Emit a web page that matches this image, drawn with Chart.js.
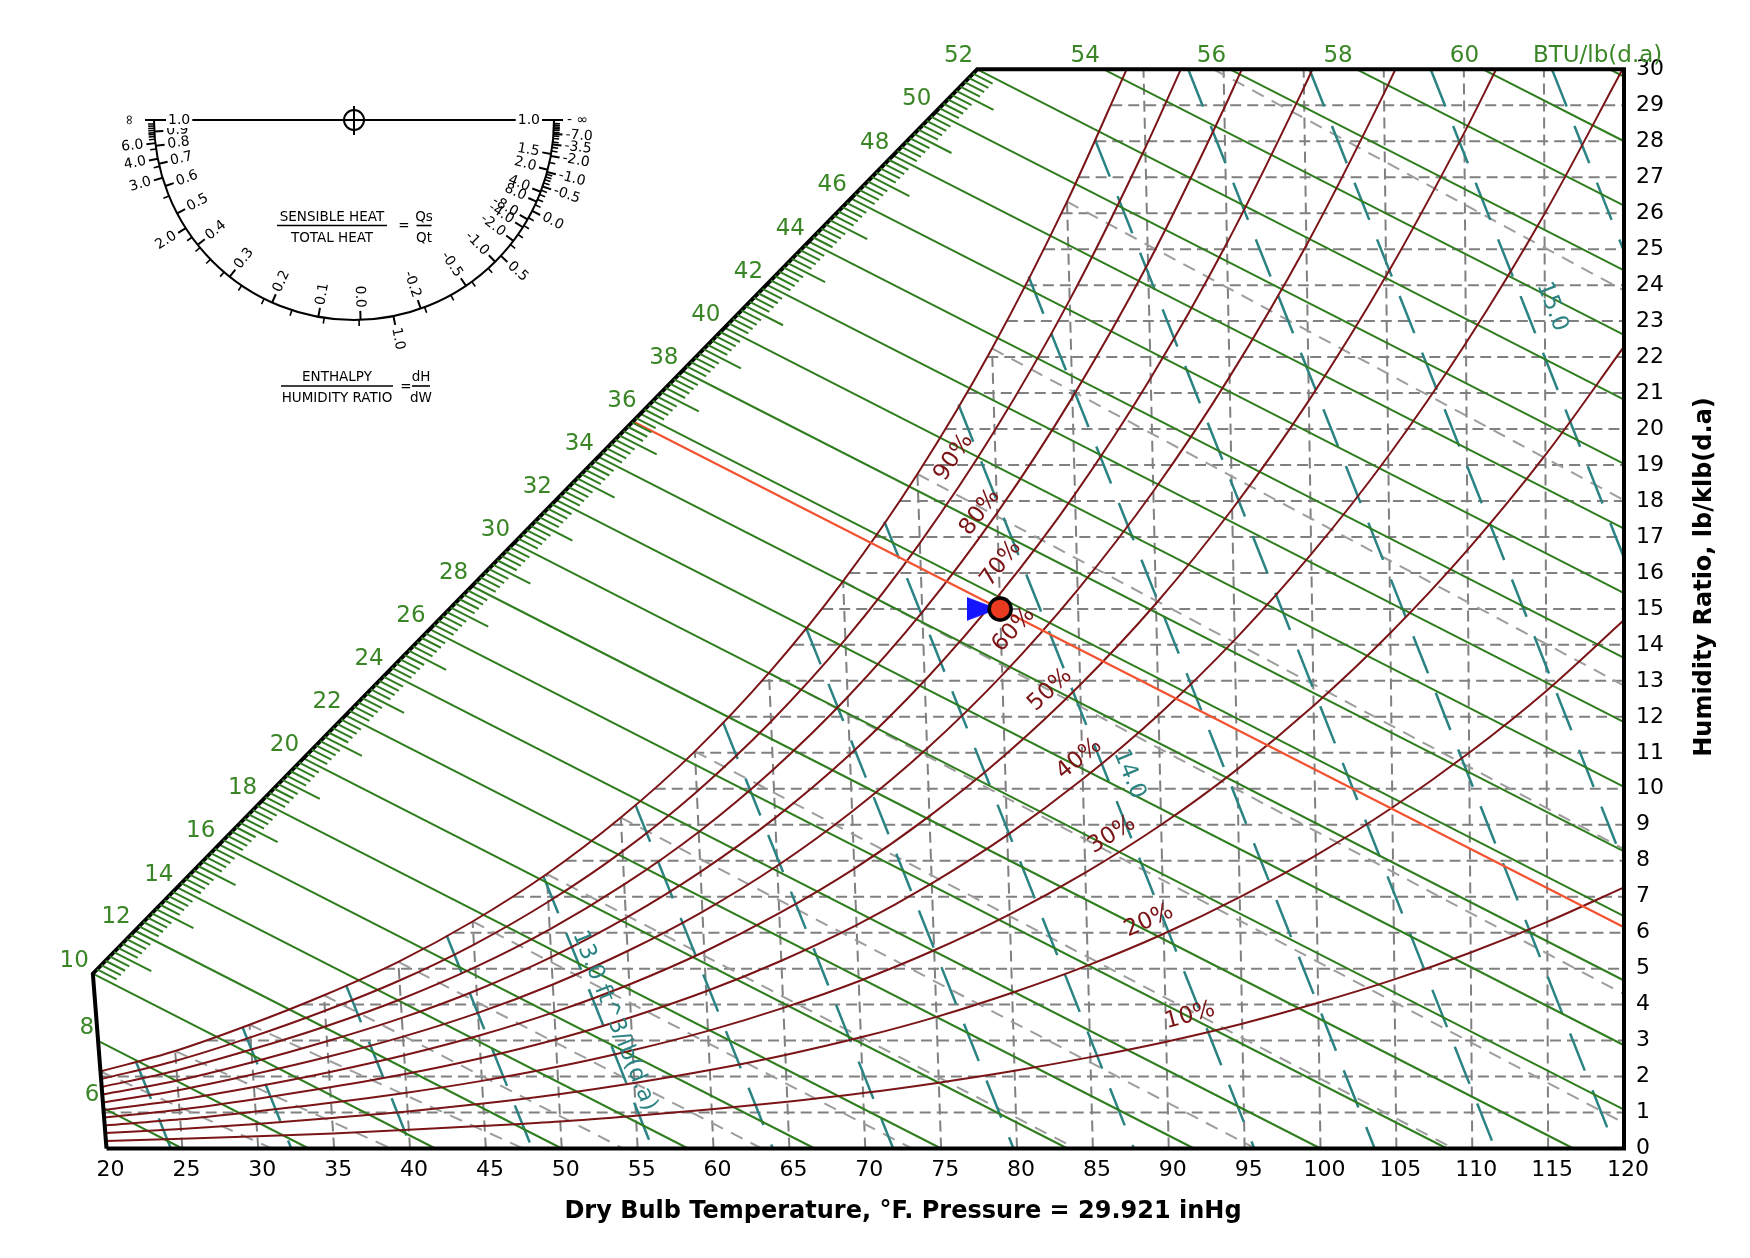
<!DOCTYPE html>
<html>
<head>
<meta charset="utf-8">
<title>Psychrometric Chart</title>
<script src="https://cdn.jsdelivr.net/npm/chart.js"></script>
<style>
  html, body { margin: 0; padding: 0; background: #fff; }
  #wrap { width: 1750px; height: 1258px; position: relative; }
</style>
</head>
<body>
<div id="wrap"><canvas id="psy"></canvas></div>
<script>
/* ============================================================
   psychrometric chart  –  sea level, 29.921 inHg
   ============================================================ */

// ── DRY BULB STEPS (°F) used by the relative humidity curves
const TEMPS = [20, 25, 30, 35, 40, 45, 50, 55, 60, 65, 70, 75, 80, 85, 90, 95, 100, 105, 110, 115, 120];

// ── RELATIVE HUMIDITY CURVES: humidity ratio (lb/klb) at each TEMPS step
const RH_100 = [2.14, 2.71, 3.44, 4.26, 5.19, 6.31, 7.63, 9.20, 11.04, 13.22, 15.77, 18.75, 22.24, 26.32];
const RH_90  = [1.93, 2.44, 3.09, 3.83, 4.67, 5.67, 6.86, 8.26, 9.92, 11.87, 14.15, 16.83, 19.95, 23.59, 27.82];
const RH_80  = [1.71, 2.17, 2.75, 3.40, 4.15, 5.04, 6.09, 7.34, 8.80, 10.53, 12.55, 14.91, 17.67, 20.88, 24.60, 28.93];
const RH_70  = [1.50, 1.89, 2.40, 2.98, 3.63, 4.40, 5.32, 6.41, 7.69, 9.19, 10.95, 13.01, 15.41, 18.19, 21.42, 25.17, 29.49];
const RH_60  = [1.28, 1.62, 2.06, 2.55, 3.11, 3.77, 4.56, 5.49, 6.58, 7.86, 9.37, 11.12, 13.16, 15.53, 18.27, 21.45, 25.11, 29.33];
const RH_50  = [1.07, 1.35, 1.71, 2.12, 2.59, 3.14, 3.79, 4.56, 5.47, 6.54, 7.78, 9.24, 10.93, 12.89, 15.15, 17.77, 20.79, 24.26, 28.24];
const RH_40  = [0.86, 1.08, 1.37, 1.70, 2.07, 2.51, 3.03, 3.65, 4.37, 5.22, 6.21, 7.37, 8.71, 10.27, 12.06, 14.14, 16.52, 19.25, 22.39, 25.98];
const RH_30  = [0.64, 0.81, 1.03, 1.27, 1.55, 1.88, 2.27, 2.73, 3.27, 3.91, 4.65, 5.51, 6.51, 7.67, 9.00, 10.54, 12.31, 14.33, 16.64, 19.28, 22.29];
const RH_20  = [0.43, 0.54, 0.68, 0.85, 1.03, 1.25, 1.51, 1.82, 2.18, 2.60, 3.09, 3.66, 4.33, 5.09, 5.97, 6.99, 8.15, 9.48, 11.00, 12.72, 14.69];
const RH_10  = [0.21, 0.27, 0.34, 0.42, 0.52, 0.63, 0.75, 0.91, 1.09, 1.30, 1.54, 1.83, 2.16, 2.54, 2.97, 3.47, 4.05, 4.70, 5.45, 6.30, 7.26];
const RH_LEVELS = [100, 90, 80, 70, 60, 50, 40, 30, 20, 10];
const RH_CURVES = [RH_100, RH_90, RH_80, RH_70, RH_60, RH_50, RH_40, RH_30, RH_20, RH_10];
// dry bulb where a curve leaves through the top edge (W = 30)
const RH_TOP_T = [88.95, 92.33, 96.14, 100.55, 105.73, 112.02, 119.91, null, null, null];

// ── ENTHALPY LINES (BTU/lb), start on the scale, end on the frame
const ENTHALPY_LEVELS = [6, 8, 10, 12, 14, 16, 18, 20, 22, 24, 26, 28, 30, 32, 34, 36, 38, 40, 42, 44, 46, 48, 50, 52, 54, 56, 58, 60, 62];
const ENTH_START_T = [20, 20, 20, 22.95, 25.94, 28.86, 31.77, 34.67, 37.60, 40.48, 43.34, 46.23, 49.07, 51.89, 54.71, 57.55, 60.34, 63.12, 65.93, 68.68, 71.42, 74.19, 76.91, 79.62, 87.52, 95.41, 103.31, 111.20, 119.10];
const ENTH_START_W = [1.12, 2.99, 4.86, 6.06, 7.25, 8.45, 9.65, 10.85, 12.04, 13.24, 14.44, 15.63, 16.83, 18.03, 19.23, 20.42, 21.62, 22.82, 24.01, 25.21, 26.41, 27.60, 28.80, 30, 30, 30, 30, 30, 30];
const ENTH_END_T = [25, 33.33, 41.67, 50, 58.33, 66.67, 75, 83.33, 91.67, 100, 108.33, 116.67, 120, 120, 120, 120, 120, 120, 120, 120, 120, 120, 120, 120, 120, 120, 120, 120, 120];
const ENTH_END_W = [0, 0, 0, 0, 0, 0, 0, 0, 0, 0, 0, 0, 1.08, 2.87, 4.67, 6.46, 8.26, 10.05, 11.85, 13.64, 15.44, 17.23, 19.03, 20.82, 22.62, 24.41, 26.21, 28.00, 29.80];

// ── WET BULB LINES (°F)
const WB_LEVELS = [20, 25, 30, 35, 40, 45, 50, 55, 60, 65, 70, 75, 80, 85, 90];
const WB_START_T = [20, 25, 30, 35, 40, 45, 50, 55, 60, 65, 70, 75, 80, 85, 94.37];
const WB_START_W = [2.14, 2.71, 3.44, 4.26, 5.19, 6.31, 7.63, 9.20, 11.04, 13.22, 15.77, 18.75, 22.24, 26.32, 30];
const WB_END_T = [30.89, 38.76, 47.46, 54.06, 63.18, 73.07, 83.87, 95.71, 108.76, 120, 120, 120, 120, 120, 120];
const WB_END_W = [0, 0, 0, 0, 0, 0, 0, 0, 0, 0.71, 4.29, 8.32, 12.87, 18.02, 23.85];

// ── SPECIFIC VOLUME LINES (ft³/lb)
const VOLUME_LEVELS = [12.2, 12.4, 12.6, 12.8, 13.0, 13.2, 13.4, 13.6, 13.8, 14.0, 14.2, 14.4, 14.6, 14.8, 15.0, 15.2];
const VOL_START_T = [22.38, 29.53, 36.49, 43.26, 49.77, 55.98, 61.89, 67.49, 72.78, 77.76, 82.45, 86.86, 92.79, 100.36, 107.93, 115.50];
const VOL_START_W = [2.41, 3.37, 4.54, 5.92, 7.57, 9.56, 11.86, 14.49, 17.43, 20.68, 24.24, 28.05, 30, 30, 30, 30];
const VOL_MID_T = [23.31, 30.85, 38.30, 45.64, 52.86, 59.91, 66.83, 73.56, 80.15, 86.56, 92.81, 98.90, 105.80, 110.02, 113.90, 117.75];
const VOL_MID_W = [1.21, 1.69, 2.27, 2.96, 3.79, 4.78, 5.93, 7.25, 8.72, 10.34, 12.12, 14.03, 15.00, 18.96, 23.21, 27.47];
const VOL_END_T = [24.24, 32.18, 40.11, 48.05, 55.98, 63.91, 71.84, 79.77, 87.70, 95.64, 103.57, 111.50, 119.44, 120, 120, 120];
const VOL_END_W = [0, 0, 0, 0, 0, 0, 0, 0, 0, 0, 0, 0, 0, 7.91, 16.42, 24.94];

// ── GRID: dry bulb lines stop on the saturation curve, W lines start on it
const DB_GRID_T = [25, 30, 35, 40, 45, 50, 55, 60, 65, 70, 75, 80, 85, 90, 95, 100, 105, 110, 115];
const DB_GRID_TOP_W = [2.71, 3.44, 4.26, 5.19, 6.31, 7.63, 9.20, 11.04, 13.22, 15.77, 18.75, 22.24, 26.32, 30, 30, 30, 30, 30, 30];
const W_GRID = [1, 2, 3, 4, 5, 6, 7, 8, 9, 10, 11, 12, 13, 14, 15, 16, 17, 18, 19, 20, 21, 22, 23, 24, 25, 26, 27, 28, 29];
const W_GRID_START_T = [20, 20, 27.14, 33.53, 39.04, 43.71, 47.73, 51.27, 54.42, 57.29, 59.89, 62.31, 64.54, 66.63, 68.59, 70.42, 72.17, 73.82, 75.38, 76.88, 78.31, 79.68, 80.99, 82.26, 83.47, 84.64, 85.77, 86.87, 87.93];

// ── CHART FRAME (dry bulb, W): bottom, right, top, enthalpy scale, 20 °F edge
const FRAME_T = [20, 120, 120, 79.62, 20, 20];
const FRAME_W = [0, 0, 30, 30, 4.86, 0];

// ── STATE POINT and its enthalpy line (h = 35.65)
const STATE_T = [80];
const STATE_W = [15];
const STATE_LINE_T = [57.06, 120];
const STATE_LINE_W = [20.21, 6.15];
const ARROW_T = [78.87];
const ARROW_W = [15];

// ── TICK LABELS
const X_TICK_STEP = 5;
const Y_TICK_STEP = 1;

// ── PROTRACTOR SCALES
const SHR_MARKS = [0.9, 0.8, 0.7, 0.6, 0.5, 0.4, 0.3, 0.2, 0.1, 0.0, -0.2, -0.5, -1.0, -2.0, -4.0, -8.0, 8.0, 4.0, 2.0, 1.5];
const DHDW_MARKS = [6.0, 4.0, 3.0, 2.0, 1.0, 0.5, 0.0, -0.5, -1.0, -2.0, -3.5, -7.0];
const DHDW_MINOR = [2.5, 3.5, 5, 7, 8, 9, 10, 12, 15, 20, 30, 1.1, 1.2, 1.3, 1.4, 1.5, 1.6, 1.7, 1.8, 1.9,
  0.6, 0.7, 0.8, 0.9, 0.1, 0.2, 0.3, 0.4, -0.1, -0.2, -0.3, -0.4, -0.6, -0.7, -0.8, -0.9,
  -1.5, -2.5, -3, -4, -5, -6, -8, -10, -12, -15, -20, -30];

// ── STYLE
const FONT = "'DejaVu Sans', Verdana, sans-serif";
const C_GREEN = '#2f7d1f';
const C_GREEN_TXT = '#3a8626';
const C_RH = '#7b1416';
const C_TEAL = '#2b8383';
const C_GRID = '#808080';
const C_WB = '#9d9d9d';
const C_STATE = '#f2522f';

// label spots (dry bulb, W) and text angle
const RH_LABEL_SPOTS = [
  { text: '90%', t: 77.36, w: 19.21, angle: -56 },
  { text: '80%', t: 78.91, w: 17.68, angle: -53 },
  { text: '70%', t: 80.15, w: 16.26, angle: -52 },
  { text: '60%', t: 80.83, w: 14.42, angle: -48 },
  { text: '50%', t: 83.05, w: 12.75, angle: -43 },
  { text: '40%', t: 84.80, w: 10.83, angle: -39 },
  { text: '30%', t: 86.80, w: 8.72, angle: -32 },
  { text: '20%', t: 89.06, w: 6.33, angle: -24 },
  { text: '10%', t: 91.59, w: 3.69, angle: -15 }
];
const VOL_LABEL_SPOTS = [
  { text: '13.0 ft^3/lb(d.a)', t: 53.9, w: 3.55, angle: 68 },
  { text: '14.0', t: 88.0, w: 10.4, angle: 68 },
  { text: '15.0', t: 115.45, w: 23.4, angle: 69 }
];
const PROT = { cx: 354, cy: 120, r: 200, tick: 9, minor: 6 };

// ── CHART GEOMETRY
// The chart sits on oblique enthalpy / humidity-ratio axes: a dry bulb line
// leans left as W grows, only the 120 °F line is upright.
const SKEW = 0.00185;
const T_UPRIGHT = 120;
function chartX(t, w) { return t + SKEW * w * (t - T_UPRIGHT); }
function pt(t, w) { return { x: chartX(t, w), y: w }; }

// protractor direction of a process with dH/dW = k, in canvas pixels
const OBL_DY = 35.95, OBL_DX = 70.46, OBL_DH = 63.23, LATENT = 1.0956;
function protAngle(k) { return Math.atan2(OBL_DY, OBL_DX - OBL_DH * k); }
function shrToK(shr) { return LATENT / (1 - shr); }

// ── DATASET HELPERS
function lineSet(points, color, width, dash, order, smooth) {
  return {
    data: points,
    showLine: true,
    borderColor: color,
    borderWidth: width,
    borderDash: dash,
    pointRadius: 0,
    pointHoverRadius: 0,
    fill: false,
    clip: false,
    tension: 0,
    cubicInterpolationMode: smooth ? 'monotone' : 'default',
    order
  };
}

function arrowMarker(w, h, color) {
  const c = document.createElement('canvas');
  c.width = w; c.height = h;
  const g = c.getContext('2d');
  g.fillStyle = color;
  g.beginPath(); g.moveTo(0, 0); g.lineTo(w, h / 2); g.lineTo(0, h); g.closePath(); g.fill();
  return c;
}

function buildDatasets() {
  const sets = [];

  DB_GRID_T.forEach((t, i) => {
    sets.push(lineSet([pt(t, 0), pt(t, DB_GRID_TOP_W[i])], C_GRID, 2, [11, 6], 60));
  });
  W_GRID.forEach((w, i) => {
    sets.push(lineSet([pt(W_GRID_START_T[i], w), pt(120, w)], C_GRID, 2, [11, 6], 60));
  });

  WB_LEVELS.forEach((_, i) => {
    sets.push(lineSet([pt(WB_START_T[i], WB_START_W[i]), pt(WB_END_T[i], WB_END_W[i])], C_WB, 2, [13, 9], 50));
  });

  VOLUME_LEVELS.forEach((_, i) => {
    sets.push(lineSet([
      pt(VOL_START_T[i], VOL_START_W[i]),
      pt(VOL_MID_T[i], VOL_MID_W[i]),
      pt(VOL_END_T[i], VOL_END_W[i])
    ], C_TEAL, 2.5, [40, 21], 40, true));
  });

  ENTHALPY_LEVELS.forEach((_, i) => {
    sets.push(lineSet([pt(ENTH_START_T[i], ENTH_START_W[i]), pt(ENTH_END_T[i], ENTH_END_W[i])], C_GREEN, 2, [], 30));
  });

  RH_CURVES.forEach((curve, i) => {
    const pts = curve.map((w, j) => pt(TEMPS[j], w));
    if (RH_TOP_T[i] !== null) pts.push(pt(RH_TOP_T[i], 30));
    sets.push(lineSet(pts, C_RH, 2, [], 20, true));
  });

  sets.push(lineSet(STATE_LINE_T.map((t, i) => pt(t, STATE_LINE_W[i])), C_STATE, 2.2, [], 10));

  const frame = lineSet(FRAME_T.map((t, i) => pt(t, FRAME_W[i])), '#000', 4, [], 5);
  frame.borderJoinStyle = 'miter';
  sets.push(frame);

  sets.push({
    data: ARROW_T.map((t, i) => pt(t, ARROW_W[i])),
    showLine: false,
    pointStyle: arrowMarker(32, 24, '#1414ff'),
    pointRadius: 12,
    clip: false,
    order: 2
  });
  sets.push({
    data: STATE_T.map((t, i) => pt(t, STATE_W[i])),
    showLine: false,
    pointRadius: 11,
    pointBackgroundColor: '#ea3a20',
    pointBorderColor: '#000',
    pointBorderWidth: 3.5,
    clip: false,
    order: 1
  });
  return sets;
}

// ── DECORATION (scale ticks, labels, protractor, titles)
function drawText(ctx, str, x, y, font, color, align, angleDeg) {
  ctx.save();
  ctx.translate(x, y);
  if (angleDeg) ctx.rotate(angleDeg * Math.PI / 180);
  ctx.font = font;
  ctx.fillStyle = color;
  ctx.textAlign = align || 'center';
  ctx.textBaseline = 'middle';
  ctx.fillText(str, 0, 0);
  ctx.restore();
}

function drawEnthalpyScale(ctx, toPx) {
  const iLo = ENTHALPY_LEVELS.indexOf(10), iHi = ENTHALPY_LEVELS.indexOf(52), iRef = ENTHALPY_LEVELS.indexOf(30);
  const lo = toPx(ENTH_START_T[iLo], ENTH_START_W[iLo]);
  const hi = toPx(ENTH_START_T[iHi], ENTH_START_W[iHi]);
  const a = toPx(ENTH_START_T[iRef], ENTH_START_W[iRef]);
  const b = toPx(ENTH_END_T[iRef], ENTH_END_W[iRef]);
  const len = Math.hypot(b.x - a.x, b.y - a.y);
  const ux = (b.x - a.x) / len, uy = (b.y - a.y) / len;
  ctx.save();
  ctx.strokeStyle = C_GREEN;
  ctx.lineWidth = 2;
  for (let q = 51; q < 260; q++) {           // 0.2 BTU steps from 10 to 52
    if (q % 10 === 0) continue;              // even values carry a full line
    const f = (q / 5 - 10) / 42;
    const x = lo.x + (hi.x - lo.x) * f, y = lo.y + (hi.y - lo.y) * f;
    const L = q % 5 === 0 ? 42 : 22;
    ctx.beginPath(); ctx.moveTo(x, y); ctx.lineTo(x + ux * L, y + uy * L); ctx.stroke();
  }
  ctx.restore();
}

function drawEnthalpyLabels(ctx, toPx) {
  const font = `23px ${FONT}`;
  ENTHALPY_LEVELS.forEach((h, i) => {
    const p = toPx(ENTH_START_T[i], ENTH_START_W[i]);
    if (h === 62) drawText(ctx, 'BTU/lb(d.a)', p.x - 12, p.y - 13, font, C_GREEN_TXT, 'center');
    else drawText(ctx, String(h), p.x - 4, p.y - 13, font, C_GREEN_TXT, 'right');
  });
}

function drawCurveLabels(ctx, toPx) {
  RH_LABEL_SPOTS.forEach(s => {
    const p = toPx(s.t, s.w);
    drawText(ctx, s.text, p.x, p.y, `23px ${FONT}`, C_RH, 'center', s.angle);
  });
  VOL_LABEL_SPOTS.forEach(s => {
    const p = toPx(s.t, s.w);
    drawText(ctx, s.text, p.x, p.y, `23px ${FONT}`, C_TEAL, 'center', s.angle);
  });
}

function protTick(ctx, ang, r0, r1) {
  const c = Math.cos(ang), s = Math.sin(ang);
  ctx.beginPath();
  ctx.moveTo(PROT.cx + r0 * c, PROT.cy + r0 * s);
  ctx.lineTo(PROT.cx + r1 * c, PROT.cy + r1 * s);
  ctx.stroke();
}

function protLabel(ctx, str, ang, rad, inside) {
  const x = PROT.cx + rad * Math.cos(ang), y = PROT.cy + rad * Math.sin(ang);
  const leftHalf = ang > Math.PI / 2 + 1e-6;
  ctx.save();
  ctx.translate(x, y);
  ctx.rotate(leftHalf ? ang - Math.PI : ang);
  ctx.textAlign = inside === leftHalf ? 'left' : 'right';
  ctx.textBaseline = 'middle';
  ctx.fillText(str, 0, 0);
  ctx.restore();
}

function boxedLabel(ctx, str, x, y, align) {
  const w = ctx.measureText(str).width;
  const x0 = align === 'left' ? x - 2 : x - w - 2;
  ctx.save();
  ctx.fillStyle = '#fff';
  ctx.fillRect(x0, y - 8, w + 4, 16);
  ctx.restore();
  ctx.textAlign = align;
  ctx.textBaseline = 'middle';
  ctx.fillText(str, x, y);
}

function fraction(ctx, num, den, x, y, w) {
  ctx.textAlign = 'center';
  ctx.textBaseline = 'alphabetic';
  ctx.fillText(num, x, y - 5);
  ctx.fillText(den, x, y + 16);
  ctx.beginPath(); ctx.moveTo(x - w / 2, y); ctx.lineTo(x + w / 2, y); ctx.stroke();
}

function drawProtractor(ctx) {
  const { cx, cy, r, tick, minor } = PROT;
  ctx.save();
  ctx.strokeStyle = '#000';
  ctx.fillStyle = '#000';
  ctx.lineWidth = 2;
  ctx.setLineDash([]);

  ctx.beginPath(); ctx.moveTo(cx - r, cy); ctx.lineTo(cx + r, cy); ctx.stroke();
  ctx.beginPath(); ctx.arc(cx, cy, r, 0, Math.PI); ctx.stroke();
  ctx.beginPath(); ctx.arc(cx, cy, 10, 0, 2 * Math.PI); ctx.stroke();
  ctx.beginPath(); ctx.moveTo(cx, cy - 14); ctx.lineTo(cx, cy + 15); ctx.stroke();

  ctx.font = `14px ${FONT}`;

  // inner scale: sensible / total heat
  SHR_MARKS.forEach(shr => {
    const ang = protAngle(shrToK(shr));
    protTick(ctx, ang, r, r - tick);
    protLabel(ctx, shr.toFixed(1), ang, r - tick - 3, true);
  });
  boxedLabel(ctx, '1.0', cx - r + 14, cy, 'left');
  boxedLabel(ctx, '1.0', cx + r - 14, cy, 'right');

  // outer scale: enthalpy / humidity ratio
  ctx.lineWidth = 1.6;
  DHDW_MINOR.forEach(k => protTick(ctx, protAngle(k), r, r + minor));
  ctx.lineWidth = 2;
  DHDW_MARKS.forEach(k => {
    const ang = protAngle(k);
    protTick(ctx, ang, r, r + tick);
    protLabel(ctx, k.toFixed(1), ang, r + tick + 3, false);
  });
  protTick(ctx, Math.PI, r, r + tick);
  protTick(ctx, 0, r, r + tick);
  ctx.save();
  ctx.translate(cx - r - 25, cy);
  ctx.rotate(Math.PI / 2);
  ctx.textAlign = 'center'; ctx.textBaseline = 'middle';
  ctx.fillText('∞', 0, 0);
  ctx.restore();
  ctx.textAlign = 'left'; ctx.textBaseline = 'middle';
  ctx.fillText('- ∞', cx + r + tick + 4, cy);

  // formulas
  ctx.lineWidth = 1.6;
  ctx.font = `13.5px ${FONT}`;
  fraction(ctx, 'SENSIBLE HEAT', 'TOTAL HEAT', 332, 225.5, 110);
  ctx.textAlign = 'center'; ctx.textBaseline = 'middle';
  ctx.fillText('=', 404, 226);
  fraction(ctx, 'Qs', 'Qt', 424, 225.5, 15);
  fraction(ctx, 'ENTHALPY', 'HUMIDITY RATIO', 337, 386, 112);
  ctx.textAlign = 'center'; ctx.textBaseline = 'middle';
  ctx.fillText('=', 406, 387);
  fraction(ctx, 'dH', 'dW', 421, 386, 18);
  ctx.restore();
}

function drawTitles(ctx) {
  drawText(ctx, 'Dry Bulb Temperature, °F. Pressure = 29.921 inHg', 903, 1212, `bold 24px ${FONT}`, '#000', 'center');
  drawText(ctx, 'Humidity Ratio, lb/klb(d.a)', 1705, 577, `bold 24px ${FONT}`, '#000', 'center', -90);
}

const psychroDecor = {
  id: 'psychroDecor',
  afterDatasetsDraw(chart) {
    const { ctx } = chart;
    const xs = chart.scales.x, ys = chart.scales.y;
    const toPx = (t, w) => ({ x: xs.getPixelForValue(chartX(t, w)), y: ys.getPixelForValue(w) });
    ctx.save();
    ctx.setLineDash([]);
    drawEnthalpyScale(ctx, toPx);
    drawEnthalpyLabels(ctx, toPx);
    drawCurveLabels(ctx, toPx);
    drawProtractor(ctx);
    drawTitles(ctx);
    ctx.restore();
  }
};

// ── INIT
const chart = new Chart(document.getElementById('psy'), {
  type: 'scatter',
  data: { datasets: buildDatasets() },
  options: {
    responsive: true,
    maintainAspectRatio: false,
    animation: false,
    devicePixelRatio: 1,
    events: [],
    layout: { padding: { left: 106.5, top: 69.3, right: 0, bottom: 0 } },
    plugins: { legend: { display: false }, tooltip: { enabled: false } },
    scales: {
      x: {
        type: 'linear',
        position: 'bottom',
        min: 20,
        max: 120,
        afterFit: s => { s.height = 109.5; },
        grid: { display: false, drawTicks: false },
        border: { display: false },
        ticks: {
          stepSize: X_TICK_STEP,
          autoSkip: false,
          maxRotation: 0,
          padding: 9,
          labelOffset: 4,
          color: '#000',
          font: { family: FONT, size: 22 }
        }
      },
      y: {
        type: 'linear',
        position: 'right',
        min: 0,
        max: 30,
        afterFit: s => { s.width = 126; },
        grid: { display: false, drawTicks: false },
        border: { display: false },
        ticks: {
          stepSize: Y_TICK_STEP,
          autoSkip: false,
          padding: 12,
          color: '#000',
          font: { family: FONT, size: 22 }
        }
      }
    }
  },
  plugins: [psychroDecor]
});
</script>
</body>
</html>
